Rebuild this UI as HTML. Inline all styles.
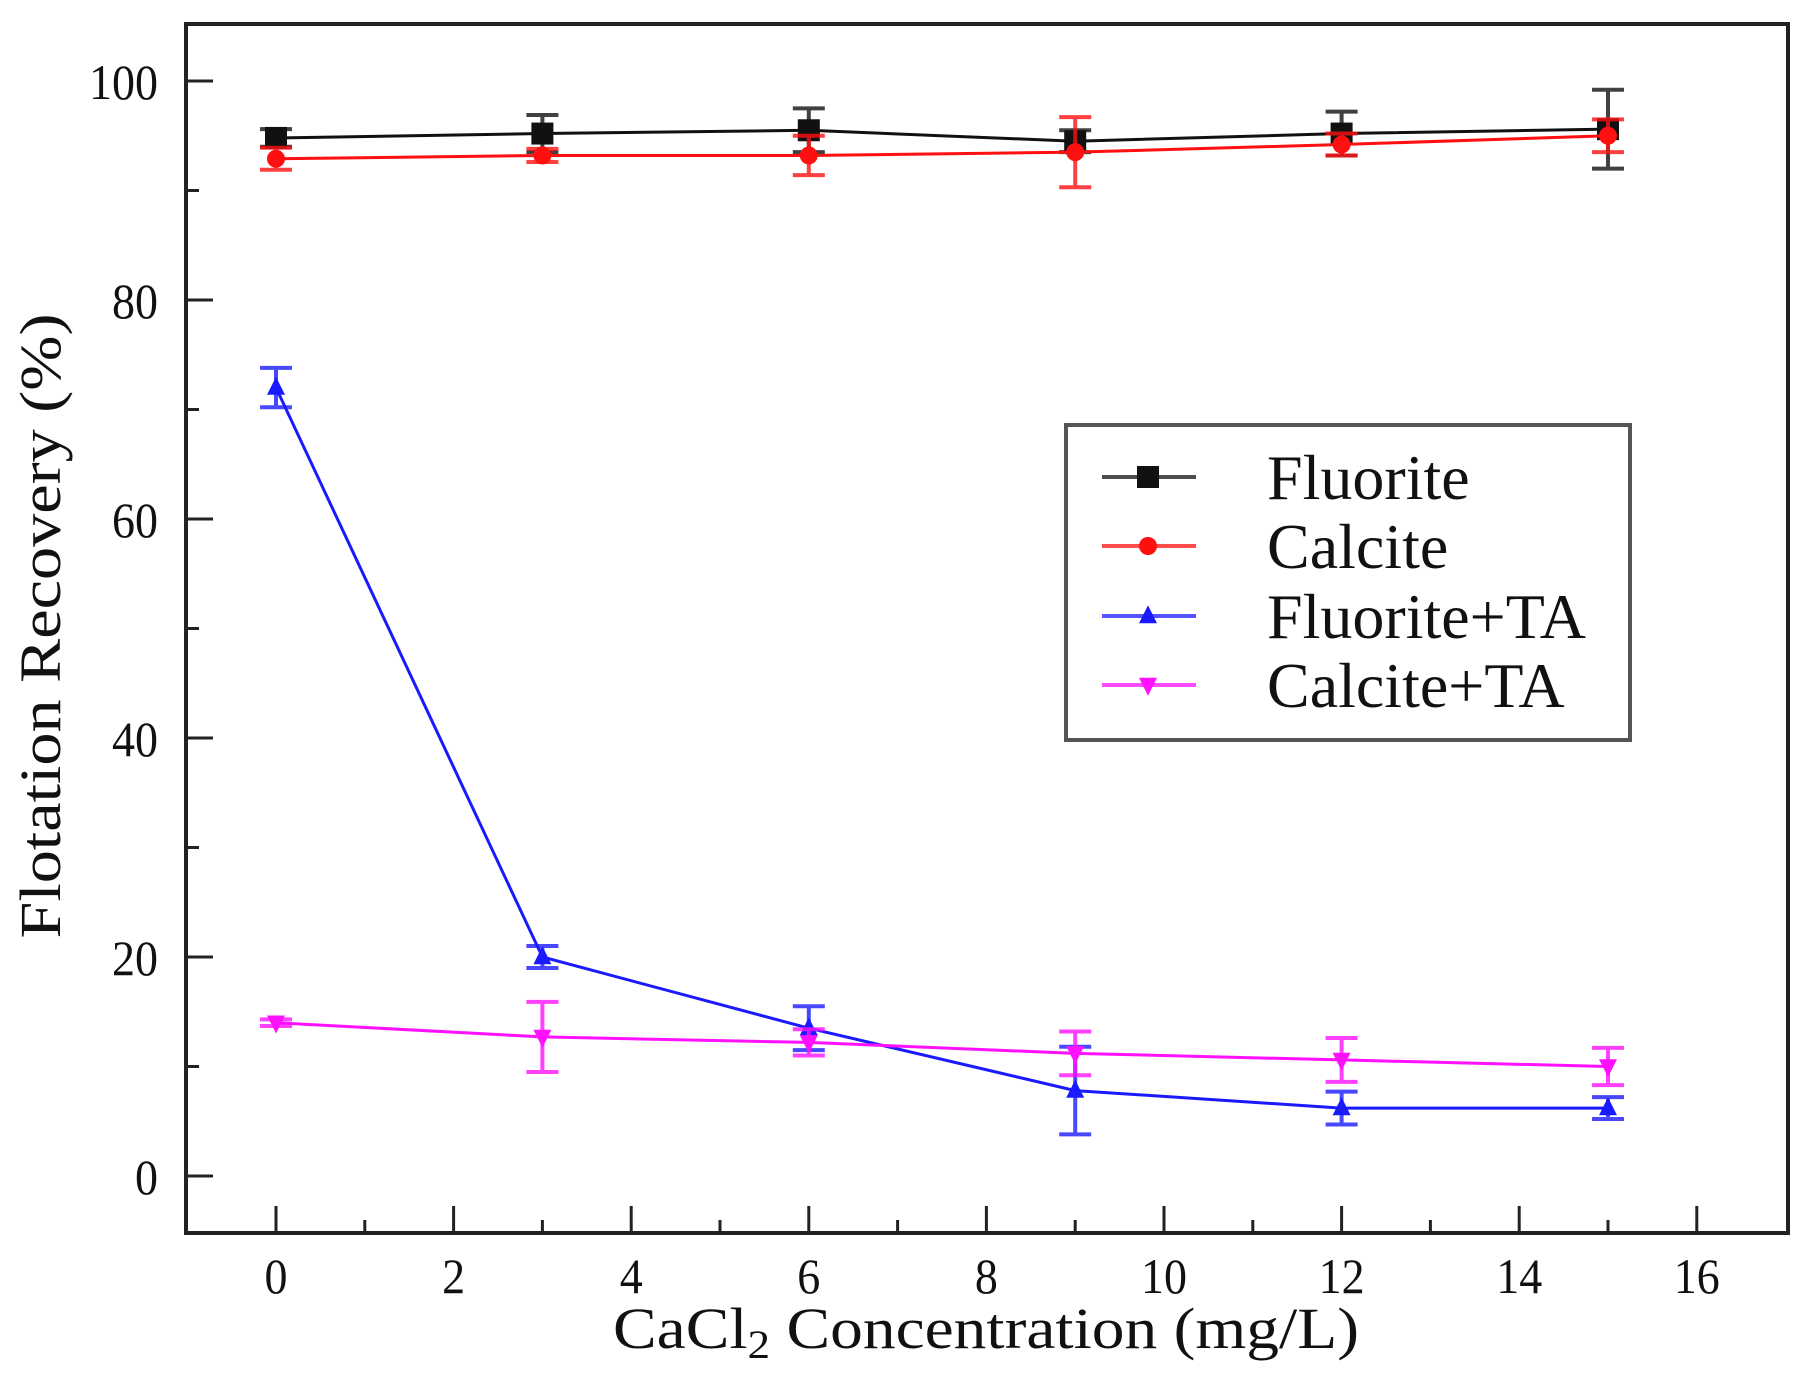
<!DOCTYPE html>
<html><head><meta charset="utf-8"><style>html,body{margin:0;padding:0;background:#fff}svg{display:block}text{font-family:"Liberation Serif",serif;fill:#111}</style></head>
<body>
<svg id="chart" width="1815" height="1382" viewBox="0 0 1815 1382" xmlns="http://www.w3.org/2000/svg">
<rect x="186" y="24" width="1602" height="1209" fill="none" stroke="#222" stroke-width="4"/>
<g id="ticks"></g>
<g id="series"></g>
<text x="613" y="1348" font-size="58" textLength="746" lengthAdjust="spacingAndGlyphs">CaCl<tspan font-size="40" dy="10">2</tspan><tspan dy="-10"> Concentration (mg/L)</tspan></text>
<text transform="translate(60,626) rotate(-90)" text-anchor="middle" font-size="58" textLength="625" lengthAdjust="spacingAndGlyphs">Flotation Recovery (%)</text>
<g>
<rect x="1066" y="425" width="564" height="315" fill="#fff" stroke="#555" stroke-width="4"/>
</g>
<g id="legend-items"></g>
</svg>
<script>
const xValues = [0, 3, 6, 9, 12, 15];
const fluorite = [94.8, 95.2, 95.5, 94.5, 95.2, 95.6];
const fluoriteErr = [0.8, 1.7, 2.0, 1.0, 2.0, 3.6];
const calcite = [92.9, 93.2, 93.2, 93.5, 94.2, 95.0];
const calciteErr = [1.0, 0.6, 1.8, 3.2, 1.0, 1.5];
const fluoriteTA = [72, 20, 13.5, 7.8, 6.2, 6.2];
const fluoriteTAErr = [1.8, 1.0, 2.0, 4.0, 1.5, 1.0];
const calciteTA = [14, 12.7, 12.2, 11.2, 10.6, 10.0];
const calciteTAErr = [0.3, 3.2, 1.2, 2.0, 2.0, 1.7];
const xTickLabels = ['0','2','4','6','8','10','12','14','16'];
const yTickLabels = ['0','20','40','60','80','100'];
const seriesNames = ['Fluorite','Calcite','Fluorite+TA','Calcite+TA'];

const NS = 'http://www.w3.org/2000/svg';
const sx = v => 276 + v * 88.8;
const sy = v => 1176 - v * 10.95;
function mk(tag, attrs, parent, txt) {
  const e = document.createElementNS(NS, tag);
  for (const k in attrs) e.setAttribute(k, attrs[k]);
  if (txt !== undefined) e.textContent = txt;
  parent.appendChild(e);
  return e;
}
const ticks = document.getElementById('ticks');
for (let v = 0; v <= 16; v++) {
  const major = v % 2 === 0;
  const t = mk('line', {x1: sx(v), x2: sx(v), y1: 1233, y2: 1233 - (major ? 27 : 13), stroke: '#222', 'stroke-width': 3}, ticks);
  
  
}
xTickLabels.forEach(l => {
  const t = mk('text', {x: sx(+l), y: 1293, 'font-size': 50, 'text-anchor': 'middle', textLength: l.length * 23, lengthAdjust: 'spacingAndGlyphs'}, ticks, l);
  
  
});
for (let v = 0; v <= 100; v += 10) {
  const major = v % 20 === 0;
  const t = mk('line', {x1: 186, x2: 186 + (major ? 27 : 13), y1: sy(v), y2: sy(v), stroke: '#222', 'stroke-width': 3}, ticks);
  
  
}
yTickLabels.forEach(l => {
  const t = mk('text', {x: 158, y: sy(+l) + 18, 'font-size': 50, 'text-anchor': 'end', textLength: l.length * 23, lengthAdjust: 'spacingAndGlyphs'}, ticks, l);
  
  
});

function marker(parent, kind, x, y, color, s) {
  let m;
  if (kind === 'square') m = mk('rect', {x: x - s, y: y - s, width: 2 * s, height: 2 * s, fill: color}, parent);
  else if (kind === 'circle') m = mk('circle', {cx: x, cy: y, r: s, fill: color}, parent);
  else if (kind === 'up') m = mk('polygon', {points: `${x},${y - s * 1.2} ${x - s},${y + s * 0.8} ${x + s},${y + s * 0.8}`, fill: color}, parent);
  else m = mk('polygon', {points: `${x},${y + s * 1.2} ${x - s},${y - s * 0.8} ${x + s},${y - s * 0.8}`, fill: color}, parent);
  return m;
}
const defs = [
  {vals: fluorite, err: fluoriteErr, color: '#111', kind: 'square', name: 'fluorite'},
  {vals: calcite, err: calciteErr, color: '#ff1010', kind: 'circle', name: 'calcite'},
  {vals: fluoriteTA, err: fluoriteTAErr, color: '#1a1aff', kind: 'up', name: 'fluorite-ta'},
  {vals: calciteTA, err: calciteTAErr, color: '#ff10ff', kind: 'down', name: 'calcite-ta'}
];
const sg = document.getElementById('series');
defs.forEach(d => {
  const g = mk('g', {}, sg);
  
  
  const pts = xValues.map((x, i) => sx(x) + ',' + sy(d.vals[i])).join(' ');
  const pl = mk('polyline', {points: pts, fill: 'none', stroke: d.color, 'stroke-width': 3}, g);
  
  
  xValues.forEach((x, i) => {
    const cx = sx(x), y1 = sy(d.vals[i] + d.err[i]), y2 = sy(d.vals[i] - d.err[i]);
    const eb = mk('path', {d: `M${cx},${y1}V${y2}M${cx - 16},${y1}H${cx + 16}M${cx - 16},${y2}H${cx + 16}`, stroke: d.color, 'stroke-width': 4, fill: 'none', opacity: 0.8}, g);
    
    
    const m = marker(g, d.kind, cx, sy(d.vals[i]), d.color, d.kind === 'square' ? 11 : 9);
    
    
  });
});
const lg = document.getElementById('legend-items');
const rowsY = [477, 546, 616, 685];
defs.forEach((d, i) => {
  const y = rowsY[i];
  const g = mk('g', {}, lg);
  
  
  mk('line', {x1: 1102, x2: 1196, y1: y, y2: y, stroke: d.color, 'stroke-width': 4, opacity: 0.75}, g);
  marker(g, d.kind, 1148, y, d.color, d.kind === 'square' ? 11 : 9);
  mk('text', {x: 1267, y: y + 22, 'font-size': 64}, g, seriesNames[i]);
});
</script>
</body></html>
